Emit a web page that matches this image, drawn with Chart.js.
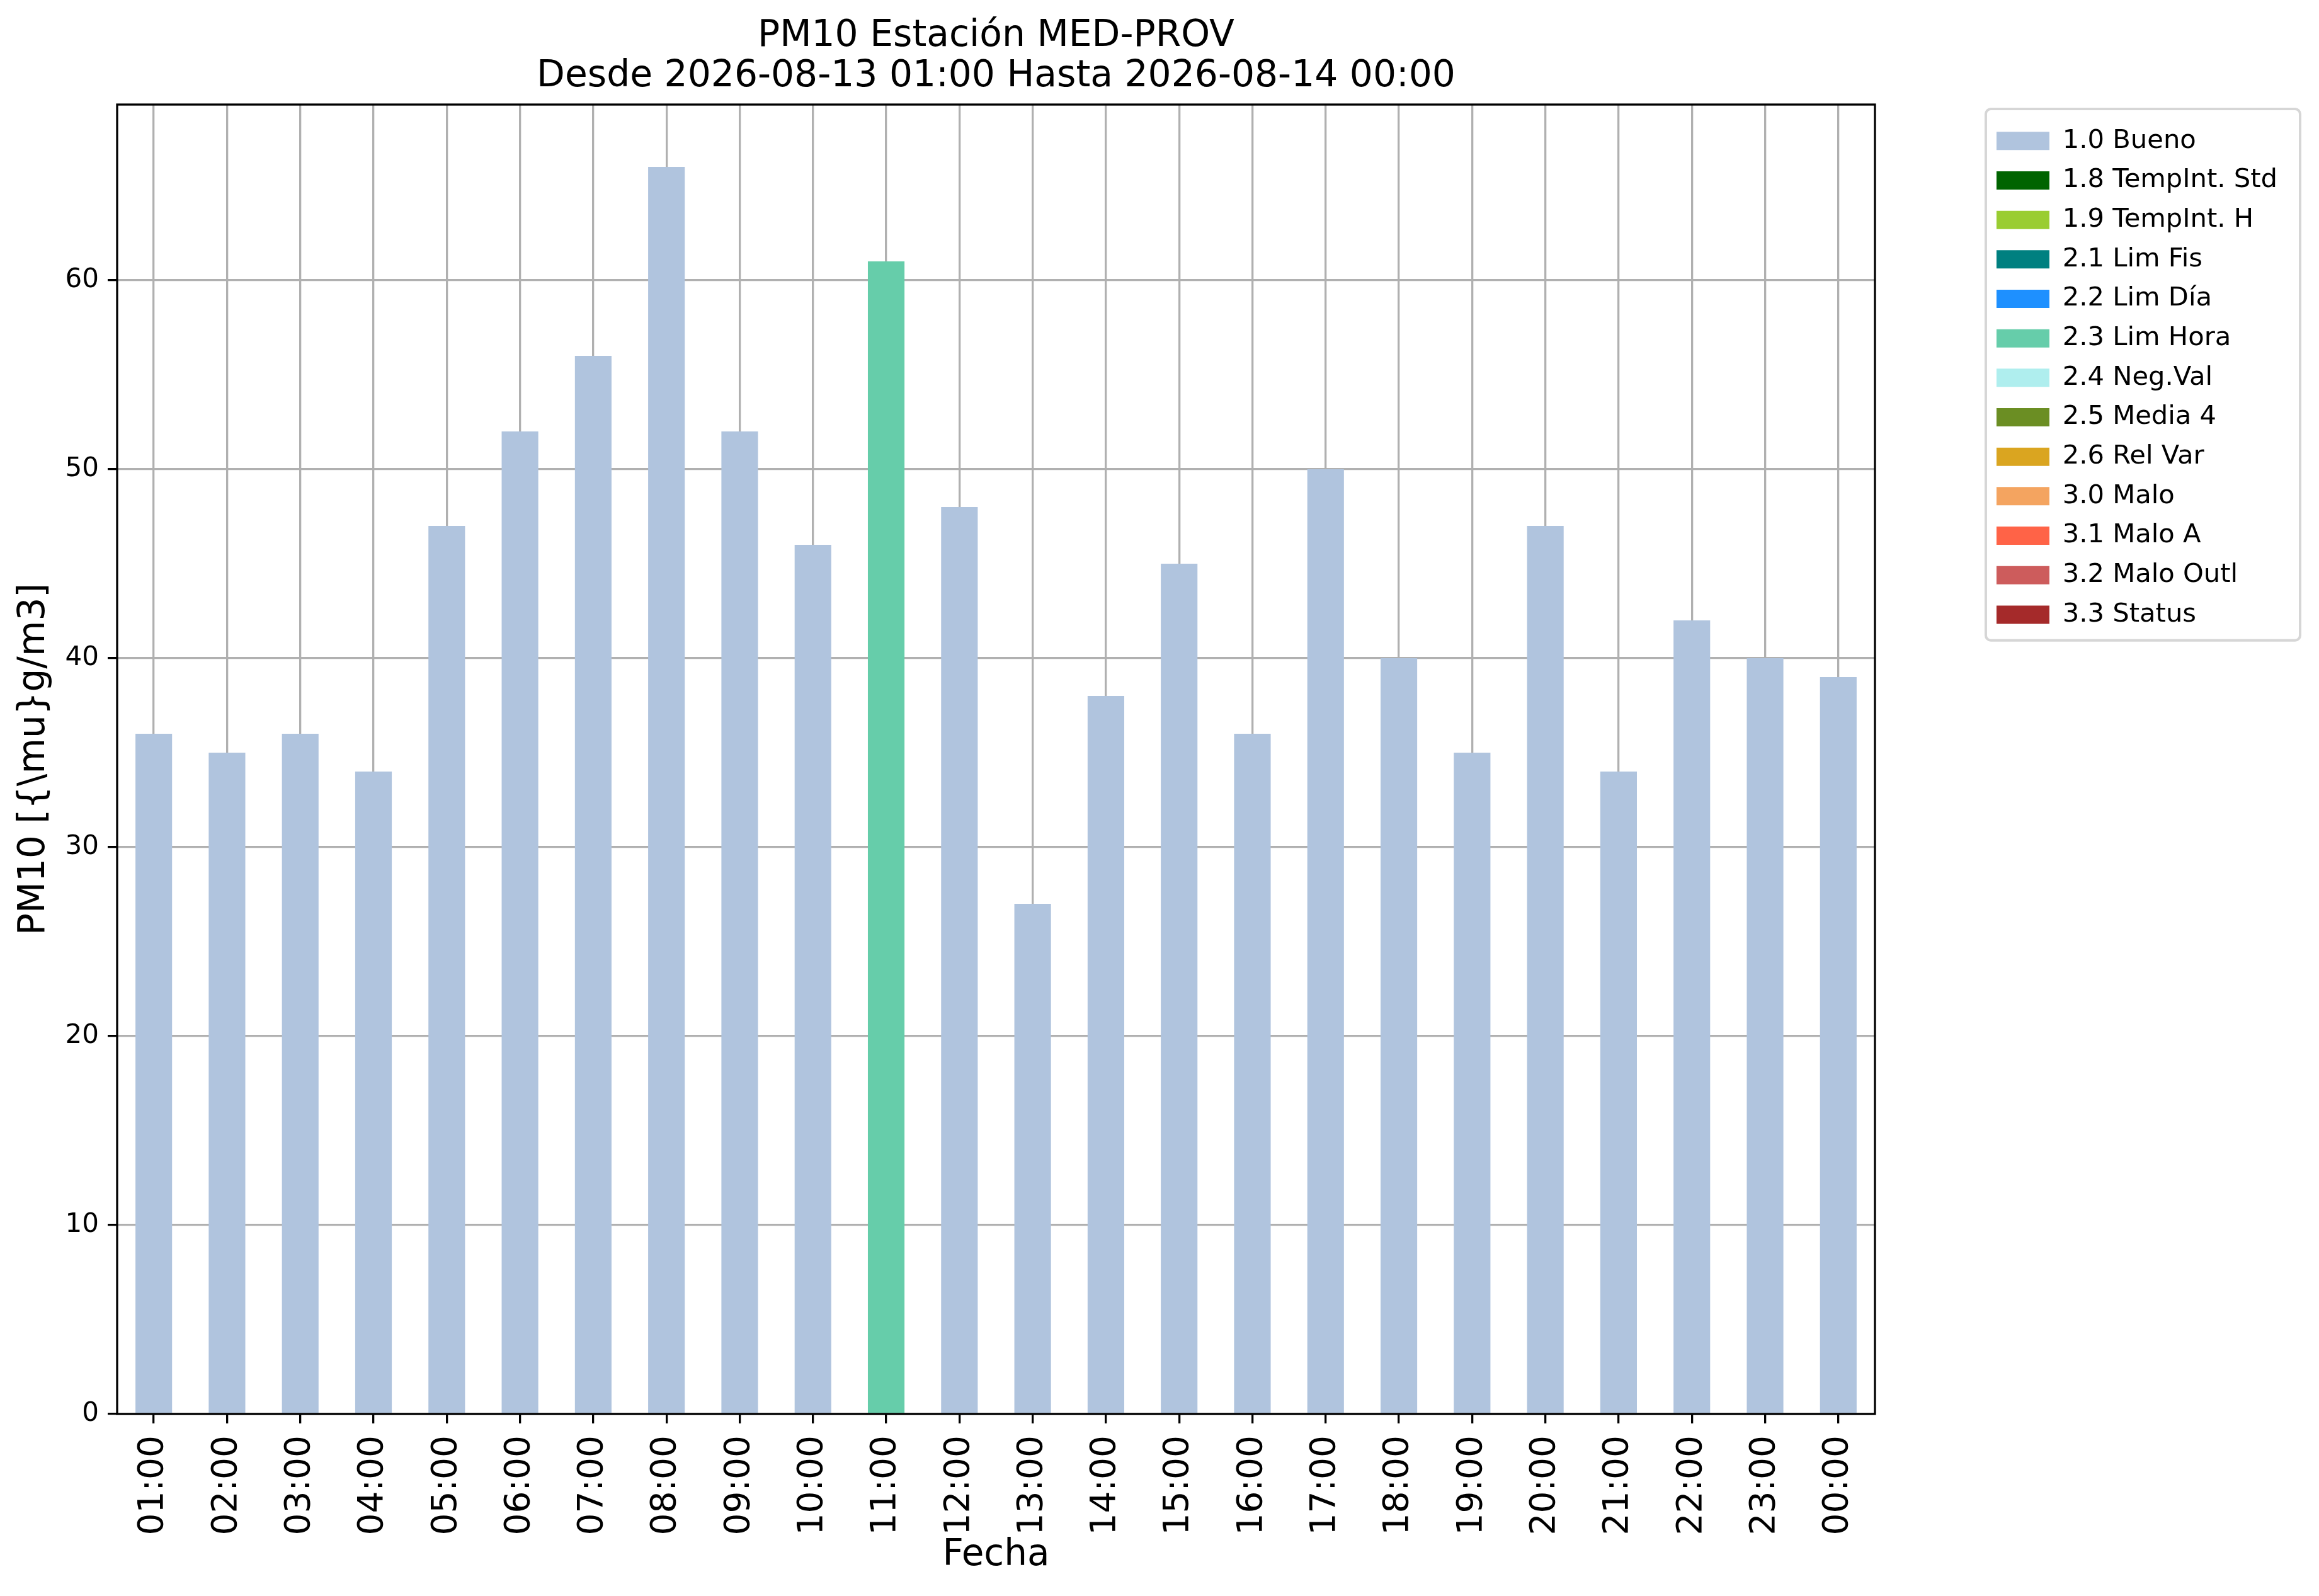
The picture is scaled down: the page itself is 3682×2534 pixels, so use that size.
<!DOCTYPE html>
<html>
<head>
<meta charset="utf-8">
<title>PM10 Estación MED-PROV</title>
<script src="https://cdn.jsdelivr.net/npm/chart.js@4/dist/chart.umd.min.js"></script>
<style>
  html, body { margin: 0; padding: 0; background: #fff; overflow: hidden; }
  #caja { width: 3682px; height: 2534px; }
</style>
</head>
<body>
<div id="caja"><canvas id="grafico"></canvas></div>
<script>
// Horas del día (eje x)
const horas = ['01:00', '02:00', '03:00', '04:00', '05:00', '06:00', '07:00', '08:00',
    '09:00', '10:00', '11:00', '12:00', '13:00', '14:00', '15:00', '16:00',
    '17:00', '18:00', '19:00', '20:00', '21:00', '22:00', '23:00', '00:00'];

// Valores PM10 por bandera de validación
const bueno = [36, 35, 36, 34, 47, 52, 56, 66, 52, 46, null, 48,
    27, 38, 45, 36, 50, 40, 35, 47, 34, 42, 40, 39];
const limHora = [null, null, null, null, null, null, null, null, null, null, 61, null,
    null, null, null, null, null, null, null, null, null, null, null, null];
const sinDatos = [null, null, null, null, null, null, null, null, null, null, null, null,
    null, null, null, null, null, null, null, null, null, null, null, null];

// Banderas de la leyenda
const banderas = ['1.0 Bueno', '1.8 TempInt. Std', '1.9 TempInt. H', '2.1 Lim Fis', '2.2 Lim Día',
    '2.3 Lim Hora', '2.4 Neg.Val', '2.5 Media 4', '2.6 Rel Var', '3.0 Malo', '3.1 Malo A',
    '3.2 Malo Outl', '3.3 Status'];
const colores = ['#b0c4de', '#006400', '#9acd32', '#008080', '#1e90ff', '#66cdaa', '#afeeee',
    '#6b8e23', '#daa520', '#f4a460', '#ff6347', '#cd5c5c', '#a52a2a'];
const series = [bueno, sinDatos, sinDatos, sinDatos, sinDatos, limHora, sinDatos,
    sinDatos, sinDatos, sinDatos, sinDatos, sinDatos, sinDatos];

const yMax = 69.3; // 66 * 1.05, margen de matplotlib

Chart.defaults.font.family = "'DejaVu Sans', sans-serif";
Chart.defaults.color = '#000';

// ✅ Marco de los ejes y de la leyenda
const marco = {
    id: 'marco',
    afterDraw(chart) {
        const { ctx, chartArea: a } = chart;
        ctx.save();
        ctx.strokeStyle = '#000';
        ctx.lineWidth = 3.3;
        ctx.strokeRect(a.left, a.top, a.right - a.left, a.bottom - a.top);

        const hb = chart.legend.legendHitBoxes;
        if (hb && hb.length) {
            const l = Math.min(...hb.map(h => h.left)) - 17;
            const r = Math.max(...hb.map(h => h.left + h.width)) + 36;
            const t = hb[0].top - 30;
            const b = hb[hb.length - 1].top + hb[hb.length - 1].height + 20;
            ctx.strokeStyle = '#d6d6d6';
            ctx.lineWidth = 4;
            ctx.beginPath();
            ctx.roundRect(l, t, r - l, b - t, 8);
            ctx.stroke();
        }
        ctx.restore();
    }
};

new Chart(document.getElementById('grafico'), {
    type: 'bar',
    data: {
        labels: horas,
        datasets: banderas.map((nombre, i) => ({
            label: nombre,
            data: series[i],
            backgroundColor: colores[i],
            borderWidth: 0,
            barPercentage: 0.5,
            categoryPercentage: 1.0
        }))
    },
    options: {
        responsive: true,
        maintainAspectRatio: false,
        devicePixelRatio: 1,
        animation: false,
        layout: { padding: { top: 0, left: 0, bottom: 0, right: 56 } },
        plugins: {
            title: {
                display: true,
                fullSize: false,
                text: ['PM10 Estación MED-PROV', 'Desde 2026-08-13 01:00 Hasta 2026-08-14 00:00'],
                font: { size: 58.3, weight: 'normal', lineHeight: 64 / 58.3 },
                color: '#000',
                padding: { top: 26, bottom: 12 }
            },
            legend: {
                position: 'right',
                align: 'start',
                fullSize: false,
                title: { display: true, text: ' ', font: { size: 16, lineHeight: 1 }, padding: 0 },
                labels: {
                    boxWidth: 84,
                    boxHeight: 29,
                    padding: 21,
                    color: '#000',
                    font: { size: 41.67 }
                }
            },
            tooltip: { enabled: false }
        },
        scales: {
            x: {
                stacked: true,
                offset: true,
                z: 1,
                grid: {
                    offset: false,
                    color: '#b0b0b0',
                    lineWidth: 3.3,
                    drawTicks: true,
                    tickLength: 15,
                    tickColor: '#000',
                    tickWidth: 3.3
                },
                border: { display: false },
                ticks: {
                    autoSkip: false,
                    maxRotation: 90,
                    minRotation: 90,
                    padding: 19,
                    color: '#000',
                    font: { size: 55 }
                },
                title: {
                    display: true,
                    text: 'Fecha',
                    color: '#000',
                    font: { size: 58 },
                    padding: { top: 0, bottom: 29 }
                },
                afterFit: (s) => { s.height = 289; }
            },
            y: {
                stacked: true,
                min: 0,
                max: yMax,
                z: 1,
                grid: {
                    color: '#b0b0b0',
                    lineWidth: 3.3,
                    drawTicks: true,
                    tickLength: 15,
                    tickColor: '#000',
                    tickWidth: 3.3
                },
                border: { display: false },
                ticks: {
                    stepSize: 10,
                    includeBounds: false,
                    padding: 14,
                    color: '#000',
                    font: { size: 42 }
                },
                title: {
                    display: true,
                    text: 'PM10 [{\\mu}g/m3]',
                    color: '#000',
                    font: { size: 58 },
                    padding: { top: 20, bottom: 0 }
                },
                afterFit: (s) => { s.width = 186; }
            },
            // hueco entre los ejes y la leyenda
            yHueco: {
                position: 'right',
                display: true,
                grid: { display: false },
                border: { display: false },
                ticks: { display: false },
                afterFit: (s) => { s.width = 172; }
            }
        }
    },
    plugins: [marco]
});
</script>
</body>
</html>
